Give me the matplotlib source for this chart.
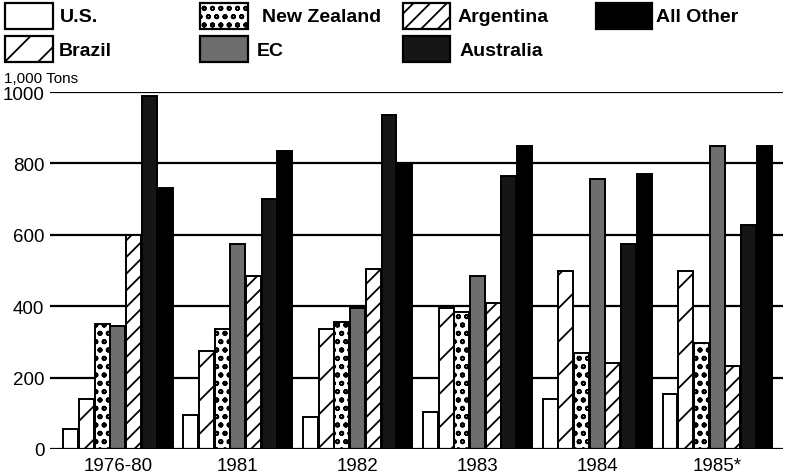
import matplotlib
matplotlib.use("Agg")
import matplotlib.pyplot as plt
from matplotlib.patches import Rectangle
import numpy as np

plt.rcParams['font.family'] = ['Liberation Sans', 'DejaVu Sans']
plt.rcParams['hatch.linewidth'] = 1.3

years = ["1976-80", "1981", "1982", "1983", "1984", "1985*"]
series_names = ["U.S.", "Brazil", "New Zealand", "EC", "Argentina", "Australia", "All Other"]

us = [55, 95, 90, 103, 140, 155]
brazil = [140, 275, 335, 395, 500, 500]
new_zealand = [350, 335, 355, 385, 268, 298]
ec = [345, 575, 395, 485, 755, 850]
argentina = [600, 485, 505, 410, 240, 233]
australia = [990, 700, 935, 765, 575, 628]
all_other = [730, 835, 800, 850, 770, 850]

values = [us, brazil, new_zealand, ec, argentina, australia, all_other]
ticks = [0, 200, 400, 600, 800, 1000]

styles = [
    dict(face="white", hatch=None),
    dict(face="white", hatch="/"),
    dict(face="white", hatch="oo"),
    dict(face="#6e6e6e", hatch=None),
    dict(face="white", hatch="//"),
    dict(face="#161616", hatch=None),
    dict(face="black", hatch=None),
]

W, H = 788, 477
fig = plt.figure(figsize=(W / 100, H / 100), dpi=100)

def fx(px):
    return px / W

def fy(py):
    return 1 - py / H

ax_l, ax_r, ax_t, ax_b = 50, 783, 93, 450
ax = fig.add_axes([fx(ax_l), fy(ax_b), fx(ax_r - ax_l), (ax_b - ax_t) / H])

x = np.arange(len(years))
step = 0.131
bw = 0.125
for i, (vals, st) in enumerate(zip(values, styles)):
    pos = x + (i - 3) * step
    ax.bar(pos, vals, width=bw, color=st["face"], edgecolor="black",
           hatch=st["hatch"], linewidth=1.4, zorder=3)

for t in ticks[1:]:
    ax.axhline(t, color="black", lw=1.6, zorder=1)
ax.axhline(0, color="black", lw=1.6, zorder=4)

ax.set_xlim(-0.567, 5.55)
ax.set_ylim(0, 1000)
ax.set_yticks(ticks)
ax.set_yticklabels([str(t) for t in ticks], fontsize=13.5)
ax.set_xticks(x)
ax.set_xticklabels(years, fontsize=13.5)
ax.tick_params(axis="y", length=0, pad=4)
ax.tick_params(axis="x", length=0, pad=6)
for s in ax.spines.values():
    s.set_visible(False)

fig.text(fx(4), fy(79), "1,000 Tons", fontsize=11, va="center", ha="left")

# legend
legend_pos = [
    (5, 4, 48, 60),     # U.S.
    (5, 37, 48, 59),    # Brazil
    (200, 4, 48, 262),  # New Zealand
    (200, 37, 48, 257), # EC
    (403, 4, 47, 458),  # Argentina
    (403, 37, 47, 460), # Australia
    (596, 4, 56, 656),  # All Other
]
for name, st, (bx, by, bwpx, tx) in zip(series_names, styles, legend_pos):
    r = Rectangle((fx(bx), fy(by + 26)), fx(bwpx), 26 / H, transform=fig.transFigure,
                  facecolor=st["face"], edgecolor="black", hatch=st["hatch"], linewidth=1.6)
    fig.patches.append(r)
    fig.text(fx(tx), fy(by + 14), name, fontsize=14, fontweight="bold", va="center", ha="left")

fig.savefig("out.png", dpi=100)
